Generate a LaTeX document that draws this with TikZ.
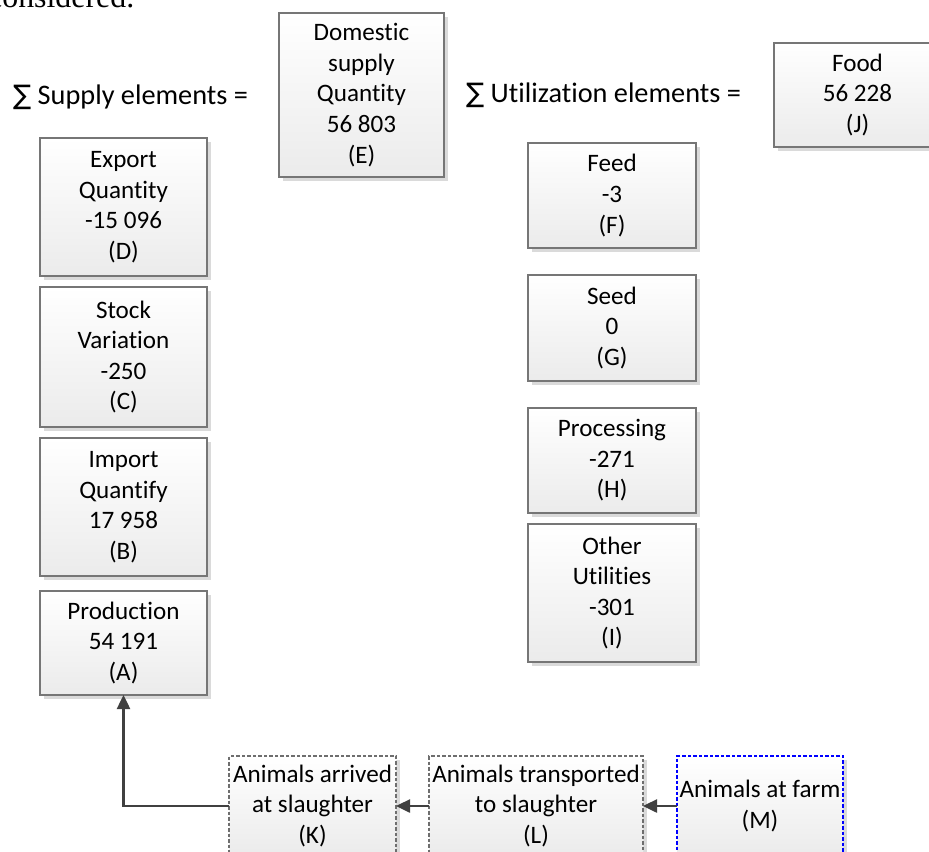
\documentclass[tikz,border=0pt]{standalone}
\usepackage{fontspec}
\setmainfont{Carlito}[Ligatures=NoCommon]
\newfontfamily\serifface{Liberation Serif}
\newfontfamily\sumface{DejaVu Sans}
\usetikzlibrary{arrows.meta,shadows}

\definecolor{boxline}{HTML}{767676}
\definecolor{boxfill}{HTML}{EBEBEB}
\definecolor{shadowgray}{HTML}{DADADA}
\definecolor{dashgray}{HTML}{6E6E6E}
\definecolor{arrowgray}{HTML}{404040}
\definecolor{farmblue}{HTML}{0000FF}

\tikzset{
  qbox/.style={draw=boxline, line width=1.1bp, top color=white, bottom color=boxfill,
    drop shadow={fill=shadowgray, opacity=1, shadow xshift=3.5bp, shadow yshift=-3.5bp},
    align=center, font=\fontsize{25.2}{30.7}\selectfont, text=black,
    anchor=north west, inner sep=0pt, outer sep=0pt},
  chainbox/.style={qbox, draw=dashgray, dashed, dash pattern=on 3.5bp off 2bp, line width=1.2bp},
  sumlabel/.style={anchor=base west, inner sep=0pt, font=\fontsize{28.4}{34}\selectfont},
  flow/.style={draw=arrowgray, line width=2.5bp, -{Triangle[length=14bp,width=13bp]}}
}

\newcommand{\sumsign}{{\sumface\fontsize{27}{33}\selectfont ∑}}

\begin{document}
\begin{tikzpicture}[x=1bp,y=1bp]
\useasboundingbox (0,0) rectangle (929,-852);

% running text of the page above the figure
\node[anchor=base west, inner sep=0pt, font=\serifface\fontsize{32}{32}\selectfont] (pagetext) at (-12,-7) {considered.};

% sum headings
\node[sumlabel] (supplysum) at (13,-104) {\sumsign\ Supply elements =};
\node[sumlabel] (utilsum) at (466,-102) {\sumsign\ Utilization elements =};

% supply side
\node[qbox, minimum width=165bp, minimum height=164bp] (E) at (279,-13) {Domestic\\supply\\Quantity\\56 803\\(E)};
\node[qbox, minimum width=167bp, minimum height=138bp] (D) at (40,-138) {Export\\Quantity\\-15 096\\(D)};
\node[qbox, minimum width=167bp, minimum height=140bp] (C) at (40,-287) {Stock\\Variation\\-250\\(C)};
\node[qbox, minimum width=167bp, minimum height=138bp] (B) at (40,-438) {Import\\Quantify\\17 958\\(B)};
\node[qbox, minimum width=167bp, minimum height=104bp] (A) at (40,-591) {Production\\54 191\\(A)};

% utilization side
\node[qbox, minimum width=167bp, minimum height=104bp] (J) at (774,-43) {Food\\56 228\\(J)};
\node[qbox, minimum width=168bp, minimum height=105bp] (F) at (528,-143) {Feed\\-3\\(F)};
\node[qbox, minimum width=168bp, minimum height=106bp] (G) at (528,-275) {Seed\\0\\(G)};
\node[qbox, minimum width=168bp, minimum height=105bp] (H) at (528,-408) {Processing\\-271\\(H)};
\node[qbox, minimum width=168bp, minimum height=138bp] (I) at (528,-524) {Other\\Utilities\\-301\\(I)};

% animal chain
\node[chainbox, minimum width=167bp, minimum height=100bp] (K) at (229,-756) {Animals arrived\\at slaughter\\(K)};
\node[chainbox, minimum width=214bp, minimum height=100bp] (L) at (429,-756) {Animals transported\\to slaughter\\(L)};
\node[chainbox, draw=farmblue, minimum width=166bp, minimum height=100bp] (M) at (677,-756) {Animals at farm\\(M)};

% connectors
\draw[flow] (M.west) -- (L.east);
\draw[flow] (L.west) -- (K.east);
\draw[flow] (K.west) -| (A.south);
\end{tikzpicture}
\end{document}
